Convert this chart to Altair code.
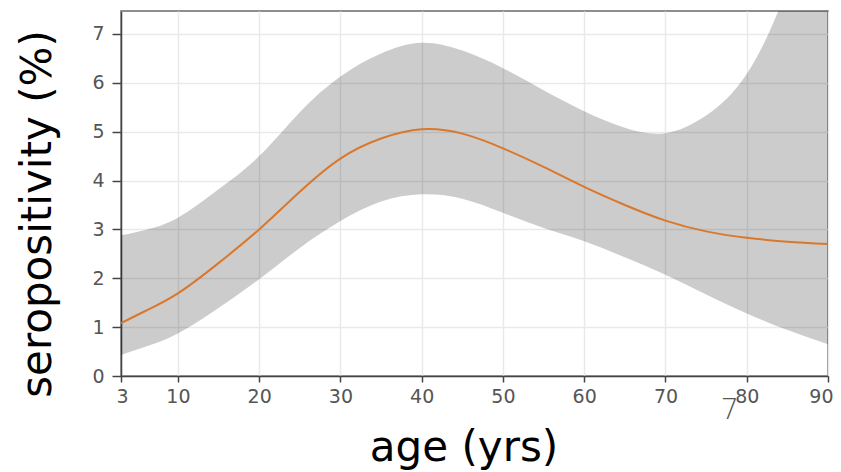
import altair as alt
import pandas as pd

# ages (years)
ages = [3, 6, 10, 15, 20, 25, 30, 35, 40, 45, 50, 55, 60, 65, 70, 75, 80, 85, 90]
# fitted seropositivity (%)
fit = [1.08, 1.33, 1.69, 2.31, 3.00, 3.77, 4.45, 4.86, 5.05, 4.96, 4.66, 4.28, 3.87, 3.50, 3.18, 2.96, 2.83, 2.75, 2.70]
# confidence band
lower = [0.43, 0.60, 0.87, 1.39, 1.98, 2.62, 3.17, 3.57, 3.72, 3.63, 3.34, 3.03, 2.76, 2.43, 2.07, 1.67, 1.28, 0.94, 0.65]
upper = [2.88, 2.99, 3.24, 3.82, 4.50, 5.40, 6.13, 6.60, 6.82, 6.66, 6.30, 5.85, 5.42, 5.08, 4.97, 5.33, 6.18, 7.95, 10.5]

x_ticks = [3, 10, 20, 30, 40, 50, 60, 70, 80, 90]
y_ticks = [0, 1, 2, 3, 4, 5, 6, 7]

stray_text = ["7"]
stray_age = [77.9]
stray_val = [-0.88]

df = pd.DataFrame({"age": ages, "fit": fit, "lower": lower, "upper": upper})
df_stray = pd.DataFrame({"t": stray_text, "age": stray_age, "v": stray_val})

xscale = alt.Scale(domain=[3, 90], nice=False, zero=False)
yscale = alt.Scale(domain=[0, 7.47], nice=False, zero=False)

xaxis = alt.Axis(
    values=x_ticks, title="age (yrs)", tickSize=6, labelPadding=5,
    labelFlush=True, labelFlushOffset=5,
    titleX=342.5, titleY=84, titleBaseline="alphabetic", titleAnchor="start",
    titleAlign="center",
)
yaxis = alt.Axis(
    values=y_ticks, title="seropositivity (%)", tickSize=9, labelPadding=8,
    labelFlush=False,
    titleX=-71, titleY=202.5, titleBaseline="alphabetic", titleAlign="center",
    titleAnchor="start",
)

band = alt.Chart(df).mark_area(
    color="#000000", opacity=0.2, interpolate="natural", clip=True
).encode(
    x=alt.X("age:Q", scale=xscale, axis=xaxis),
    y=alt.Y("lower:Q", scale=yscale, axis=yaxis),
    y2="upper:Q",
)

line = alt.Chart(df).mark_line(
    color="#d9782c", strokeWidth=2, interpolate="natural", clip=True
).encode(
    x=alt.X("age:Q", scale=xscale),
    y=alt.Y("fit:Q", scale=yscale),
)

stray = alt.Chart(df_stray).mark_text(
    font="DejaVu Sans", fontSize=29, color="#555555", baseline="alphabetic",
    align="center", fontWeight=200,
).encode(
    x=alt.X("age:Q", scale=xscale),
    y=alt.Y("v:Q", scale=yscale),
    text="t:N",
)

chart = alt.layer(band, line, stray).properties(
    width=707, height=365,
    autosize=alt.AutoSizeParams(type="none"),
    padding={"left": 113, "top": 3, "right": 5, "bottom": 96},
).configure_view(
    stroke="#6a6a6a", strokeWidth=1.5,
).configure_axis(
    grid=True, gridColor="#e9e9e9", gridWidth=1.5,
    domainColor="#444444", domainWidth=1.5,
    tickColor="#444444", tickWidth=1.5,
    labelFont="DejaVu Sans", labelFontSize=19, labelColor="#555555",
    titleFont="DejaVu Sans", titleFontSize=42, titleFontWeight="normal",
    titleColor="#000000",
)

chart.save("out.html", embed_options={"renderer": "svg", "actions": False})
